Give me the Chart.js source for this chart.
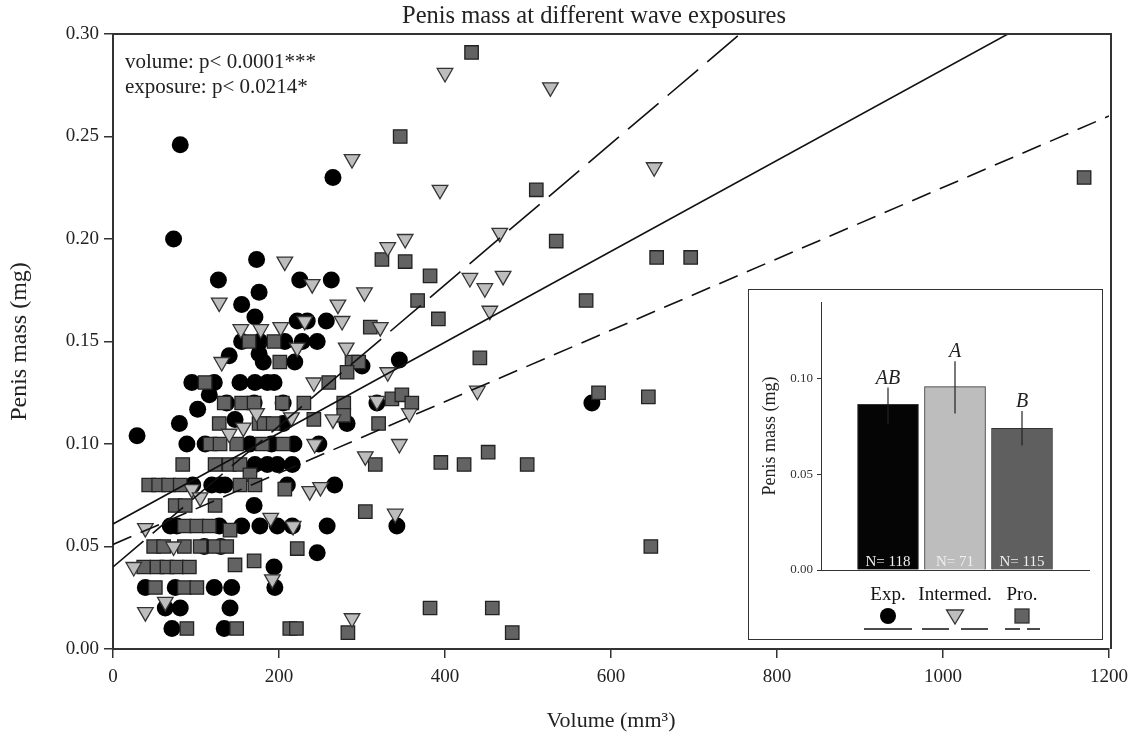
<!DOCTYPE html>
<html>
<head>
<meta charset="utf-8">
<title>Penis mass at different wave exposures</title>
<script src="https://cdn.jsdelivr.net/npm/chart.js@4.4.1/dist/chart.umd.min.js"></script>
<style>
  html, body { margin: 0; padding: 0; background: #fff; }
  #wrap { position: relative; width: 1144px; height: 740px; }
  #main { position: absolute; left: 0; top: 0; }
  #inset { position: absolute; left: 748px; top: 289px; }
</style>
</head>
<body>
<div id="wrap">
  <canvas id="main" width="1144" height="740"></canvas>
  <canvas id="inset" width="355" height="351"></canvas>
</div>
<script>
// scatter data: [volume mm3, penis mass mg]
const expPoints = [
  [81,0.246],[73,0.200],[265,0.230],[29,0.104],[577,0.120],
  [173,0.190],[127,0.180],[225,0.180],[263,0.180],[176,0.174],[155,0.168],[171,0.162],
  [222,0.160],[234,0.160],[257,0.160],
  [155,0.150],[177,0.150],[207,0.150],[228,0.150],[246,0.150],
  [176,0.144],[140,0.143],[181,0.140],[219,0.140],[300,0.138],[345,0.141],
  [95,0.130],[122,0.130],[153,0.130],[171,0.130],[186,0.130],[194,0.130],
  [116,0.124],[137,0.120],[170,0.120],[205,0.120],[318,0.120],
  [102,0.117],[80,0.110],[147,0.112],[205,0.110],[282,0.110],
  [89,0.100],[111,0.100],[165,0.100],[191,0.100],[218,0.100],[248,0.100],
  [171,0.090],[186,0.090],[198,0.090],[216,0.090],
  [96,0.080],[119,0.080],[129,0.080],[135,0.080],[210,0.080],[267,0.080],
  [170,0.070],
  [69,0.060],[77,0.060],[128,0.060],[155,0.060],[177,0.060],[198,0.060],[216,0.060],[258,0.060],[342,0.060],
  [110,0.050],[130,0.050],[246,0.047],
  [194,0.040],
  [39,0.030],[75,0.030],[122,0.030],[143,0.030],[195,0.030],
  [63,0.020],[81,0.020],[141,0.020],
  [71,0.010],[134,0.010]
];
const intPoints = [
  [400,0.281],[527,0.274],[288,0.239],[652,0.235],[394,0.224],[466,0.203],[352,0.200],[331,0.196],
  [430,0.181],[470,0.182],[207,0.189],[240,0.178],[303,0.174],[448,0.176],[128,0.169],[271,0.168],[454,0.165],
  [231,0.160],[276,0.160],[202,0.157],[322,0.157],[154,0.156],[178,0.156],
  [222,0.147],[281,0.147],[131,0.140],[331,0.135],
  [242,0.130],[439,0.126],[318,0.121],[357,0.115],
  [173,0.115],[215,0.113],[265,0.112],[157,0.108],[140,0.105],
  [243,0.100],[345,0.100],[304,0.094],[237,0.077],[250,0.079],[95,0.078],[105,0.074],
  [190,0.064],[217,0.060],[340,0.066],[39,0.059],
  [73,0.050],[25,0.040],[192,0.034],[63,0.023],[39,0.018],[288,0.015]
];
const proPoints = [
  [432,0.291],[346,0.250],[510,0.224],[1170,0.230],[534,0.199],[655,0.191],[696,0.191],[324,0.190],[352,0.189],
  [382,0.182],[367,0.170],[570,0.170],[392,0.161],[310,0.157],
  [164,0.150],[194,0.150],[442,0.142],[201,0.140],[288,0.140],[296,0.140],[282,0.135],
  [111,0.130],[260,0.130],
  [585,0.125],[645,0.123],[336,0.122],[348,0.124],[360,0.120],
  [134,0.120],[155,0.120],[170,0.120],[204,0.120],[230,0.120],[278,0.120],
  [128,0.110],[176,0.110],[182,0.110],[193,0.110],[242,0.112],[278,0.114],[320,0.110],
  [117,0.100],[129,0.100],[149,0.100],[180,0.100],[205,0.100],
  [395,0.091],[423,0.090],[452,0.096],[499,0.090],[316,0.090],
  [84,0.090],[123,0.090],[140,0.090],[153,0.090],[165,0.085],
  [43,0.080],[55,0.080],[67,0.080],[81,0.080],[153,0.080],[171,0.080],[207,0.078],
  [75,0.070],[87,0.070],[123,0.070],[304,0.067],
  [86,0.060],[101,0.060],[116,0.060],[141,0.058],
  [49,0.050],[61,0.050],[86,0.050],[105,0.050],[123,0.050],[137,0.050],[222,0.049],[648,0.050],
  [37,0.040],[53,0.040],[65,0.040],[77,0.040],[92,0.040],[147,0.041],[170,0.043],
  [51,0.030],[86,0.030],[101,0.030],
  [382,0.020],[457,0.020],
  [89,0.010],[149,0.010],[213,0.010],[221,0.010],[283,0.008],[481,0.008]
];

// regression lines (end points)
const fitExp = [[0,0.061],[1200,0.327]];
const fitInt = [[0,0.040],[1200,0.453]];
const fitPro = [[0,0.051],[1200,0.260]];

// inset bar chart
const groups = ['Exp.', 'Intermed.', 'Pro.'];
const groupMeans = [0.0865, 0.0958, 0.0740];
const groupUpper = [0.0953, 0.1090, 0.0830];
const groupLower = [0.0760, 0.0818, 0.0650];
const groupLetters = ['AB', 'A', 'B'];
const groupN = [118, 71, 115];

const serif = "'Liberation Serif', 'Times New Roman', serif";
Chart.defaults.font.family = serif;
Chart.defaults.color = '#222';

const toXY = arr => arr.map(p => ({ x: p[0], y: p[1] }));

function fitDataset(pts, dash) {
  return {
    data: toXY(pts),
    showLine: true,
    pointRadius: 0,
    borderColor: '#111',
    borderWidth: 1.6,
    borderDash: dash,
    fill: false
  };
}

const mainDecor = {
  id: 'mainDecor',
  afterDraw(chart) {
    const { ctx, chartArea: a } = chart;
    ctx.save();
    ctx.strokeStyle = '#333';
    ctx.lineWidth = 2;
    ctx.beginPath();
    ctx.moveTo(a.left, a.top);
    ctx.lineTo(a.right + 2, a.top);
    ctx.lineTo(a.right + 2, a.bottom);
    ctx.stroke();

    ctx.fillStyle = '#222';
    ctx.textAlign = 'center';
    ctx.textBaseline = 'middle';
    ctx.font = '24.5px ' + serif;
    ctx.fillText('Penis mass at different wave exposures', 594, 17);

    ctx.font = '22px ' + serif;
    ctx.fillText('Volume (mm\u00B3)', (a.left + a.right) / 2, 721);

    ctx.save();
    ctx.translate(20, (a.top + a.bottom) / 2);
    ctx.rotate(-Math.PI / 2);
    ctx.font = '24px ' + serif;
    ctx.fillText('Penis mass (mg)', 0, 0);
    ctx.restore();

    ctx.textAlign = 'left';
    ctx.font = '21px ' + serif;
    ctx.fillText('volume: p< 0.0001***', 125, 62);
    ctx.fillText('exposure: p< 0.0214*', 125, 87);
    ctx.restore();
  }
};

new Chart(document.getElementById('main'), {
  type: 'scatter',
  data: {
    datasets: [
      fitDataset(fitExp, []),
      fitDataset(fitInt, [40, 12]),
      fitDataset(fitPro, [20, 10]),
      {
        label: 'Intermed.',
        data: toXY(intPoints),
        pointStyle: 'triangle',
        pointRotation: 180,
        pointRadius: 9,
        pointBackgroundColor: '#bdbdbd',
        pointBorderColor: '#333',
        pointBorderWidth: 1.3
      },
      {
        label: 'Pro.',
        data: toXY(proPoints),
        pointStyle: 'rect',
        pointRadius: 9.5,
        pointBackgroundColor: '#636363',
        pointBorderColor: '#222',
        pointBorderWidth: 1.3
      },
      {
        label: 'Exp.',
        data: toXY(expPoints),
        pointStyle: 'circle',
        pointRadius: 8.5,
        pointBackgroundColor: '#000',
        pointBorderColor: '#000',
        pointBorderWidth: 0
      }
    ]
  },
  options: {
    responsive: false,
    animation: false,
    events: [],
    devicePixelRatio: 1,
    layout: { padding: { top: 34, right: 35, left: 0, bottom: 0 } },
    plugins: { legend: { display: false }, tooltip: { enabled: false } },
    scales: {
      x: {
        type: 'linear', min: 0, max: 1200,
        ticks: { stepSize: 200, font: { size: 19 }, color: '#222', padding: 8, maxRotation: 0, callback: v => String(v) },
        grid: { drawOnChartArea: false, tickLength: 9, color: '#333', lineWidth: 1.5 },
        border: { color: '#333', width: 2 },
        afterFit: s => { s.height = 91; }
      },
      y: {
        type: 'linear', min: 0, max: 0.30,
        ticks: { stepSize: 0.05, font: { size: 19 }, color: '#222', padding: 5, callback: v => v.toFixed(2) },
        grid: { drawOnChartArea: false, tickLength: 9, color: '#333', lineWidth: 1.5 },
        border: { color: '#333', width: 2 },
        afterFit: s => { s.width = 113; }
      }
    }
  },
  plugins: [mainDecor]
});

const insetDecor = {
  id: 'insetDecor',
  afterDatasetsDraw(chart) {
    const { ctx, scales: { x, y }, chartArea: a } = chart;
    ctx.save();
    ctx.strokeStyle = '#222';
    ctx.lineWidth = 1.2;
    groups.forEach((g, i) => {
      const cx = x.getPixelForValue(i + 1);
      ctx.beginPath();
      ctx.moveTo(cx, y.getPixelForValue(groupLower[i]));
      ctx.lineTo(cx, y.getPixelForValue(groupUpper[i]));
      ctx.stroke();

      ctx.fillStyle = '#222';
      ctx.textAlign = 'center';
      ctx.textBaseline = 'alphabetic';
      ctx.font = 'italic 20px ' + serif;
      ctx.fillText(groupLetters[i], cx, y.getPixelForValue(groupUpper[i]) - 4);

      ctx.fillStyle = '#eee';
      ctx.textBaseline = 'middle';
      ctx.font = '15px ' + serif;
      ctx.fillText('N= ' + groupN[i], cx, a.bottom - 8);
    });
    ctx.restore();
  },
  afterDraw(chart) {
    const { ctx, scales: { x }, chartArea: a, width, height } = chart;
    ctx.save();
    ctx.strokeStyle = '#333';
    ctx.lineWidth = 1;
    ctx.strokeRect(0.5, 0.5, width - 1, height - 1);

    // legend symbols
    const my = 327, ly = 340;
    const c0 = x.getPixelForValue(1), c1 = x.getPixelForValue(2), c2 = x.getPixelForValue(3);
    ctx.fillStyle = '#000';
    ctx.beginPath();
    ctx.arc(c0, my, 8, 0, Math.PI * 2);
    ctx.fill();

    ctx.fillStyle = '#bdbdbd';
    ctx.strokeStyle = '#333';
    ctx.lineWidth = 1.3;
    ctx.beginPath();
    ctx.moveTo(c1 - 8.5, my - 6);
    ctx.lineTo(c1 + 8.5, my - 6);
    ctx.lineTo(c1, my + 8);
    ctx.closePath();
    ctx.fill();
    ctx.stroke();

    ctx.fillStyle = '#636363';
    ctx.fillRect(c2 - 7, my - 7, 14, 14);
    ctx.strokeRect(c2 - 7, my - 7, 14, 14);

    ctx.strokeStyle = '#111';
    ctx.lineWidth = 1.5;
    const seg = (x0, x1, dash) => {
      ctx.setLineDash(dash);
      ctx.beginPath();
      ctx.moveTo(x0, ly);
      ctx.lineTo(x1, ly);
      ctx.stroke();
    };
    seg(c0 - 24, c0 + 24, []);
    seg(c1 - 33, c1 + 34, [27, 12]);
    seg(c2 - 17, c2 + 18, [15, 7]);
    ctx.setLineDash([]);

    ctx.fillStyle = '#222';
    ctx.textAlign = 'center';
    ctx.textBaseline = 'middle';
    ctx.font = '18px ' + serif;
    ctx.translate(22, (a.top + a.bottom) / 2);
    ctx.rotate(-Math.PI / 2);
    ctx.fillText('Penis mass (mg)', 0, 0);
    ctx.restore();
  }
};

new Chart(document.getElementById('inset'), {
  type: 'bar',
  data: {
    datasets: [{
      data: groupMeans.map((m, i) => ({ x: i + 1, y: m })),
      backgroundColor: ['#050505', '#bdbdbd', '#5f5f5f'],
      borderColor: '#333',
      borderWidth: 1,
      barThickness: 61
    }]
  },
  options: {
    responsive: false,
    animation: false,
    events: [],
    devicePixelRatio: 1,
    layout: { padding: { top: 13, right: 13, left: 0, bottom: 0 } },
    plugins: { legend: { display: false }, tooltip: { enabled: false } },
    scales: {
      x: {
        type: 'linear', min: 0, max: 4, offset: false,
        ticks: { stepSize: 1, autoSkip: false, maxRotation: 0, padding: 14, font: { size: 19 }, color: '#111',
                 callback: v => groups[v - 1] || '' },
        grid: { drawOnChartArea: false, drawTicks: false },
        border: { color: '#333', width: 1 },
        afterFit: s => { s.height = 70; }
      },
      y: {
        type: 'linear', min: 0, max: 0.14,
        ticks: { stepSize: 0.05, includeBounds: false, padding: 4, font: { size: 13 }, color: '#333',
                 callback: v => v.toFixed(2) },
        grid: { drawOnChartArea: false, tickLength: 4, color: '#333' },
        border: { color: '#333', width: 1 },
        afterFit: s => { s.width = 73; }
      }
    }
  },
  plugins: [insetDecor]
});
</script>
</body>
</html>
